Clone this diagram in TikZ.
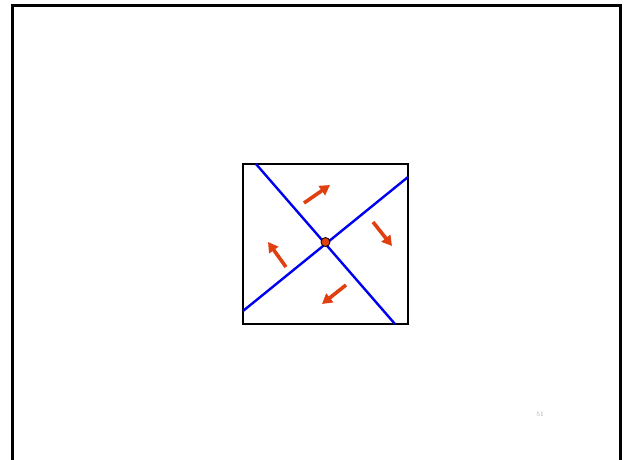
\documentclass[tikz,border=0pt]{standalone}
\usetikzlibrary{arrows.meta}
\definecolor{flowred}{HTML}{E0400F}
\definecolor{lineblue}{HTML}{0000F0}
\tikzset{
  frameline/.style={line width=3pt, black},
  boxline/.style={line width=2.8pt, black},
  split/.style={line width=2.4pt, lineblue},
  flow/.style={line width=3.6pt, flowred, -{Triangle[length=10pt,width=11pt]}},
  hub/.style={circle, fill=flowred, draw=black, line width=0.8pt, minimum size=9pt, inner sep=0pt},
  pagenum/.style={font=\fontsize{6.5}{7}\selectfont, text=gray!80}
}
\begin{document}
\begin{tikzpicture}[x=1pt,y=-1pt]
\useasboundingbox (0,0) rectangle (625,459);
% outer frame (bottom edge outside the picture)
\coordinate (fbl) at (12,470);
\coordinate (ftl) at (12,5);
\coordinate (ftr) at (620,5);
\coordinate (fbr) at (620,470);
\draw[frameline] (fbl) -- (ftl) -- (ftr) -- (fbr);
% square
\coordinate (sq1) at (243,164);
\coordinate (sq2) at (408,324);
\draw[boxline] (sq1) rectangle (sq2);
% splitting lines
\coordinate (a1) at (256,164);
\coordinate (a2) at (395,324);
\coordinate (b1) at (243,311);
\coordinate (b2) at (408,177);
\draw[split] (a1) -- (a2);
\draw[split] (b1) -- (b2);
\node[hub] (c) at (325.5,242) {};
% arrows
\coordinate (t1) at (304,203); \coordinate (t2) at (330,185);
\coordinate (r1) at (373,222); \coordinate (r2) at (392,246);
\coordinate (d1) at (346,285); \coordinate (d2) at (322,304);
\coordinate (l1) at (286,267); \coordinate (l2) at (268,242);
\draw[flow] (t1) -- (t2);
\draw[flow] (r1) -- (r2);
\draw[flow] (d1) -- (d2);
\draw[flow] (l1) -- (l2);
\node[pagenum] (pg) at (540,414) {51};
\end{tikzpicture}
\end{document}
